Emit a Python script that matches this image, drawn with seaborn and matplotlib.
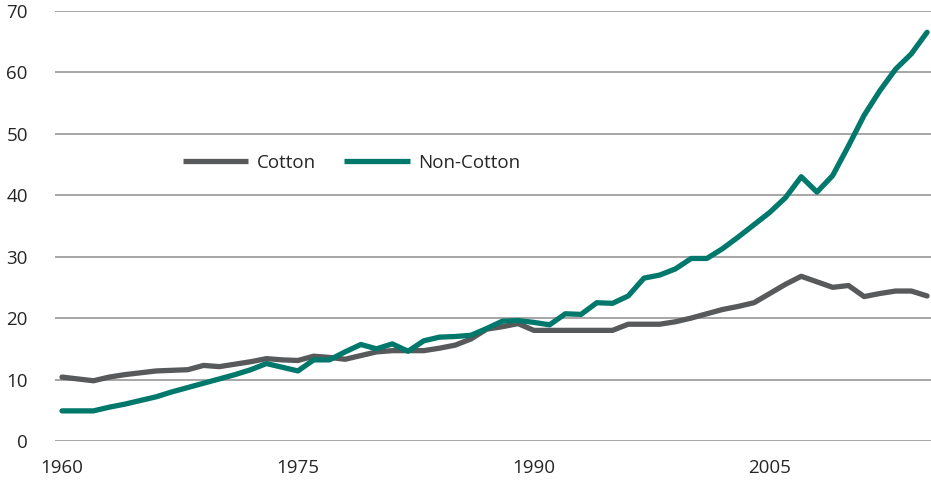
import matplotlib.pyplot as plt
import seaborn as sns
import pandas as pd

# dados (1960-2015)
anos = list(range(1960, 2016))

cotton = [10.4, 10.1, 9.8, 10.4, 10.8, 11.1, 11.4, 11.5, 11.6, 12.3,
          12.1, 12.5, 12.9, 13.4, 13.2, 13.1, 13.8, 13.6, 13.3, 13.9,
          14.5, 14.7, 14.7, 14.7, 15.1, 15.6, 16.6, 18.2, 18.6, 19.1,
          18.0, 18.0, 18.0, 18.0, 18.0, 18.0, 19.0, 19.0, 19.0, 19.4,
          20.0, 20.7, 21.4, 21.9, 22.5, 24.0, 25.5, 26.8, 25.9, 25.0,
          25.3, 23.5, 24.0, 24.4, 24.4, 23.6]

non_cotton = [4.9, 4.9, 4.9, 5.5, 6.0, 6.6, 7.2, 8.0, 8.7, 9.4,
              10.1, 10.8, 11.6, 12.6, 12.0, 11.4, 13.2, 13.2, 14.5, 15.7,
              15.0, 15.8, 14.6, 16.3, 16.9, 17.0, 17.2, 18.3, 19.5, 19.6,
              19.3, 18.9, 20.7, 20.6, 22.5, 22.4, 23.6, 26.5, 27.0, 28.0,
              29.7, 29.7, 31.3, 33.2, 35.2, 37.2, 39.6, 43.0, 40.5, 43.2,
              48.0, 53.0, 57.0, 60.5, 63.0, 66.5]

series = ['Cotton', 'Non-Cotton']
cores = ['#58595b', '#00786c']
anos_ticks = [1960, 1975, 1990, 2005]
y_ticks = [0, 10, 20, 30, 40, 50, 60, 70]

df = pd.DataFrame({'ano': anos * 2,
                   'valor': cotton + non_cotton,
                   'serie': ['Cotton'] * len(anos) + ['Non-Cotton'] * len(anos)})

sns.set_style('white')
plt.rcParams['font.family'] = ['Open Sans', 'DejaVu Sans']

fig = plt.figure(figsize=(9.31, 4.90), dpi=100)
ax = fig.add_axes([0.059, 0.1, 0.941, 0.878])

sns.lineplot(data=df, x='ano', y='valor', hue='serie', hue_order=series,
             palette=cores, linewidth=3.8, ax=ax, zorder=3)

ax.set_xlim(1959.55, 2015.25)
ax.set_ylim(0, 70)
ax.set_xticks(anos_ticks)
ax.set_yticks(y_ticks)
ax.set_xlabel('')
ax.set_ylabel('')
ax.grid(axis='y', color='#a6a6a6', linewidth=1.4, zorder=0)
ax.grid(axis='x', visible=False)
for s in ax.spines.values():
    s.set_visible(False)
ax.tick_params(axis='y', length=0, pad=19.5, labelsize=13.5, labelcolor='#262626')
ax.tick_params(axis='x', length=0, pad=13, labelsize=13.5, labelcolor='#262626')

ax.legend(loc='center left', bbox_to_anchor=(0.146, 0.647), ncol=2, frameon=False,
          fontsize=13.5, handlelength=3.5, handletextpad=0.45, columnspacing=1.5,
          borderpad=0, borderaxespad=0)
for t in ax.get_legend().get_texts():
    t.set_color('#262626')
for h in ax.get_legend().get_lines():
    h.set_solid_capstyle('butt')

fig.savefig('out.png', dpi=100)
